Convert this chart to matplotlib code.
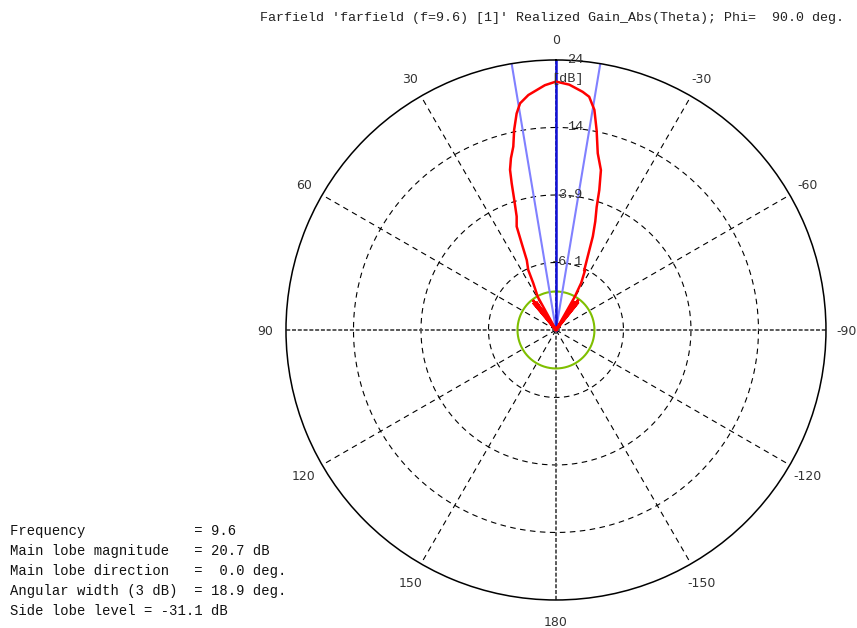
import numpy as np
import matplotlib
matplotlib.use("Agg")
import matplotlib.pyplot as plt

# farfield cut, phi = 90 deg (theta in deg, realized gain in dB)
theta_deg = [-180, -150, -120, -90, -60, -48, -42, -40, -38.8, -37.6, -36.4, -35.2, -34, -32, -30.5,
             -29.5, -28.2, -26, -25.3, -23.4, -21.5, -19.9, -18.3, -17.2, -15.7,
             -13.3, -11.5, -9.9, -8.1, -6.4, -3.1, 0,
             2.6, 6.7, 9.0, 10.3, 11.8, 13.1, 14.7, 16.0, 16.8, 17.8, 19.1,
             20.8, 21.6, 22.7, 24.8, 25.9, 28.8, 30.5, 33, 35.2, 36.4, 37.6, 38.8, 40,
             42, 48, 60, 90, 120, 150, 180]
gain_db = [-35.0, -32.0, -30.0, -28.0, -26.0, -24.0, -21.0, -17.0, -10.8, -17.0, -10.5, -17.0, -11.0, -19.0, -17.5,
           -10.5, -8.2, -6.3, -6.3, -4.3, -1.2, 1.0, 3.1, 5.6, 8.5,
           10.8, 14.1, 17.0, 18.8, 19.4, 20.3, 20.7,
           20.2, 18.95, 17.9, 16.5, 14.2, 11.8, 10.2, 8.6, 6.6, 4.1, 1.7,
           0.3, -2.3, -4.9, -6.3, -8.4, -10.5, -17.5, -19.0, -11.0, -17.0, -10.5, -17.0, -10.8,
           -21.0, -24.0, -26.0, -28.0, -30.0, -32.0, -35.0]

rings = [-6.1, 3.9, 13.9]
ring_labels = ["-6.1", "3.9", "14"]
r_min, r_max = -16.1, 23.9
angle_ticks = [0, 30, 60, 90, 120, 150, 180, -150, -120, -90, -60, -30]

main_lobe_dir = 0.0
beam_width = 18.9
side_lobe_lvl = 20.7 - 31.1

mono = "Liberation Mono"

fig = plt.figure(figsize=(8.57, 6.28), dpi=100)
ax = fig.add_axes([0.3337, 0.0446, 0.6301, 0.8599], projection="polar")
ax.set_theta_zero_location("N")
ax.set_theta_direction(1)
ax.set_ylim(r_min, r_max)
ax.grid(False)
ax.set_xticks([])
ax.set_yticks([])
ax.spines["polar"].set_linewidth(1.1)
ax.spines["polar"].set_color("black")

full = np.linspace(0, 2 * np.pi, 721)
for rv in rings:
    ax.plot(full, np.full_like(full, rv), color="black", lw=0.8, dashes=(5, 4))

for a in [30, 60, 120, 150, -30, -60, -120, -150]:
    t = np.deg2rad(a)
    ax.plot([t, t], [r_min, r_max], color="black", lw=0.8, dashes=(5, 4))

for a in [0, 90, 180, -90]:
    t = np.deg2rad(a)
    ax.plot([t, t], [r_min, r_max], color="0.3", lw=1.3, dashes=(2.2, 1.0))

# side lobe level circle
ax.plot(full, np.full_like(full, side_lobe_lvl), color="#7fbf00", lw=1.5)

# beam width lines
for a in [main_lobe_dir - beam_width / 2, main_lobe_dir + beam_width / 2]:
    t = np.deg2rad(a)
    ax.plot([t, t], [r_min, r_max], color="#8080ff", lw=1.5)
ax.plot([np.deg2rad(main_lobe_dir)] * 2, [r_min, r_max], color="#1010d8", lw=1.8)

th = np.deg2rad(np.array(theta_deg))
g = np.clip(np.array(gain_db), r_min, None)
ax.plot(th, g, color="red", lw=1.8, solid_joinstyle="miter")

# angle labels
lab_r = r_min + (r_max - r_min) * 291 / 270
for a in angle_ticks:
    ax.text(np.deg2rad(a), lab_r, str(a), ha="center", va="center_baseline",
            fontsize=9, color="#333333", clip_on=False)

# radial labels
for rv, lb in zip([r_max] + rings[::-1], ["24", "14", "3.9", "-6.1"]):
    ax.annotate(lb, xy=(0, rv), xytext=(27, 0), textcoords="offset pixels",
                ha="right", va="center", fontsize=9.7, family=mono, color="#333333",
                zorder=10)
ax.annotate("[dB]", xy=(0, r_max), xytext=(28, -19), textcoords="offset pixels",
            ha="right", va="center", fontsize=9.7, family=mono, color="#333333",
            zorder=10)

fig.text(260 / 857, 1 - 18 / 628,
         "Farfield 'farfield (f=9.6) [1]' Realized Gain_Abs(Theta); Phi=  90.0 deg.",
         ha="left", va="center", fontsize=9.6, family=mono, color="#222222")

info = ["Frequency             = 9.6",
        "Main lobe magnitude   = 20.7 dB",
        "Main lobe direction   =  0.0 deg.",
        "Angular width (3 dB)  = 18.9 deg.",
        "Side lobe level = -31.1 dB"]
for i, line in enumerate(info):
    fig.text(10 / 857, 1 - (531 + 20 * i) / 628, line, ha="left", va="center",
             fontsize=10, family=mono, color="#111111")

fig.savefig("out.png", dpi=100)
